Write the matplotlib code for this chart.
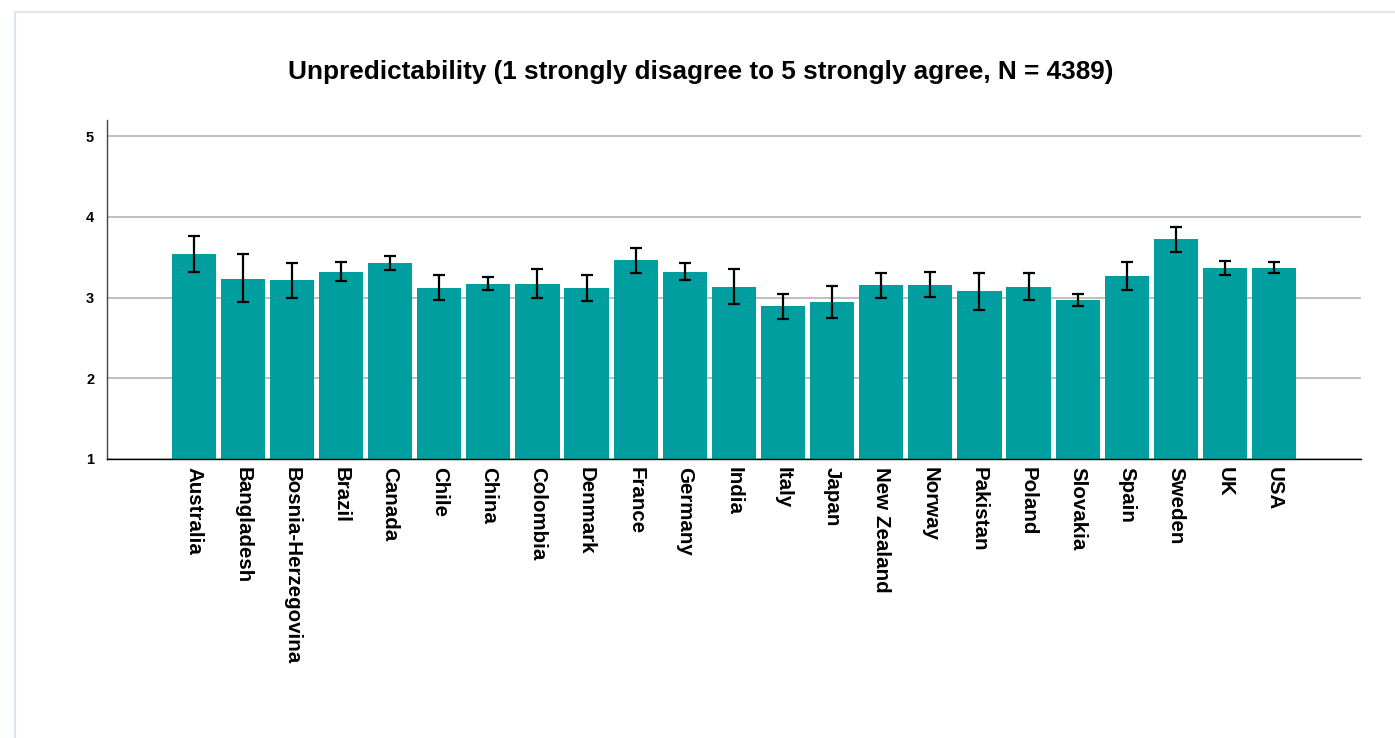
import matplotlib
matplotlib.use("Agg")
import matplotlib.pyplot as plt
from matplotlib.patches import Rectangle
import numpy as np

plt.rcParams['font.family'] = ['Liberation Sans', 'DejaVu Sans']

countries = ["Australia", "Bangladesh", "Bosnia-Herzegovina", "Brazil", "Canada",
             "Chile", "China", "Colombia", "Denmark", "France", "Germany", "India",
             "Italy", "Japan", "New Zealand", "Norway", "Pakistan", "Poland",
             "Slovakia", "Spain", "Sweden", "UK", "USA"]
means = [3.54, 3.23, 3.22, 3.32, 3.43, 3.12, 3.17, 3.17, 3.12, 3.46, 3.32, 3.13,
         2.89, 2.95, 3.16, 3.16, 3.08, 3.13, 2.97, 3.27, 3.72, 3.37, 3.37]
ci_upper = [3.76, 3.54, 3.43, 3.44, 3.52, 3.28, 3.26, 3.36, 3.28, 3.61, 3.43, 3.35,
            3.04, 3.14, 3.31, 3.32, 3.31, 3.30, 3.05, 3.44, 3.87, 3.45, 3.44]
ci_lower = [3.32, 2.94, 3.00, 3.20, 3.34, 2.97, 3.09, 2.99, 2.96, 3.31, 3.22, 2.92,
            2.74, 2.75, 3.00, 3.01, 2.85, 2.97, 2.89, 3.10, 3.57, 3.28, 3.30]

title = "Unpredictability (1 strongly disagree to 5 strongly agree, N = 4389)"
bar_color = "#009e9f"

fig = plt.figure(figsize=(13.95, 7.38), dpi=100)

# light frame around the whole panel
fig.patches.append(Rectangle((14.5 / 1395, -0.1), 1.2, 1 - 11.5 / 738 + 0.1,
                             transform=fig.transFigure, fill=False,
                             edgecolor="#dfe6ee", linewidth=1.5))

ax = fig.add_axes([106.7 / 1395, 1 - 459 / 738, (1361 - 106.7) / 1395, (459 - 120) / 738])

x = np.arange(len(countries))
means = np.array(means)
yerr = [means - np.array(ci_lower), np.array(ci_upper) - means]

ax.bar(x, means - 1, bottom=1, width=0.9, color=bar_color, zorder=2)
ax.errorbar(x, means, yerr=yerr, fmt="none", ecolor="black", elinewidth=1.6,
            capsize=4.5, capthick=1.6, zorder=3)

ax.set_xlim(-1.77, len(countries) - 1 + 1.77)
ax.set_ylim(1, 5.2)
ax.set_yticks([1, 2, 3, 4, 5])
ax.set_yticklabels(["1", "2", "3", "4", "5"], fontsize=10.5, fontweight="bold")
ax.yaxis.grid(True, color="#b4b4b4", linewidth=1.2, zorder=0)
ax.set_axisbelow(True)

ax.set_xticks(x)
ax.set_xticklabels(countries, rotation=270, fontsize=14.8, fontweight="bold",
                   va="top", ha="center")
ax.tick_params(axis="both", length=0)
ax.tick_params(axis="x", pad=6)
ax.tick_params(axis="y", pad=9)

for side in ["top", "right"]:
    ax.spines[side].set_visible(False)
ax.spines["left"].set_color("#444444")
ax.spines["bottom"].set_color("black")
ax.spines["left"].set_linewidth(1.0)
ax.spines["bottom"].set_linewidth(1.0)

fig.text(701 / 1395, 1 - 72 / 738, title, ha="center", va="center",
         fontsize=18.8, fontweight="bold")

fig.savefig("out.png", dpi=100)
